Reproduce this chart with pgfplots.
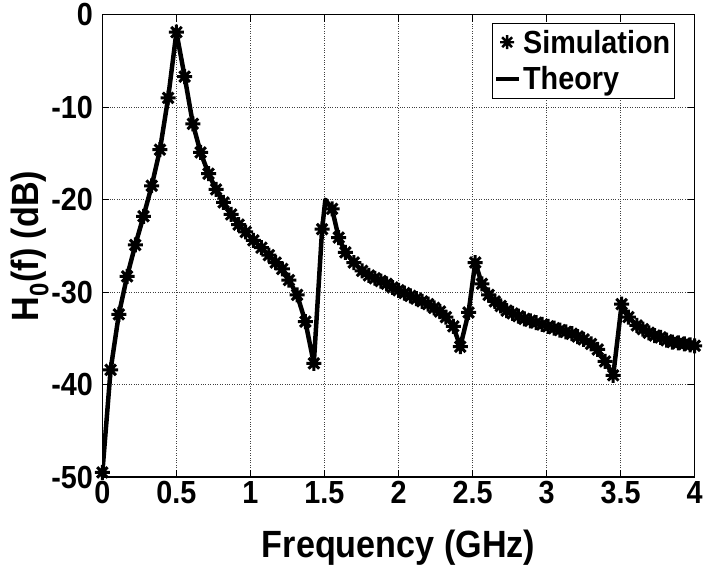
\documentclass[border=0pt]{standalone}
\usepackage{pgfplots}
\pgfplotsset{compat=1.18}
\usepackage{fontspec}
\setmainfont{Liberation Sans}[FakeStretch=0.9]

\pgfdeclareplotmark{mstar}{%
  \pgfpathmoveto{\pgfqpoint{-\pgfplotmarksize}{0pt}}%
  \pgfpathlineto{\pgfqpoint{\pgfplotmarksize}{0pt}}%
  \pgfpathmoveto{\pgfqpoint{0pt}{-\pgfplotmarksize}}%
  \pgfpathlineto{\pgfqpoint{0pt}{\pgfplotmarksize}}%
  \pgfpathmoveto{\pgfqpoint{-.707\pgfplotmarksize}{-.707\pgfplotmarksize}}%
  \pgfpathlineto{\pgfqpoint{.707\pgfplotmarksize}{.707\pgfplotmarksize}}%
  \pgfpathmoveto{\pgfqpoint{-.707\pgfplotmarksize}{.707\pgfplotmarksize}}%
  \pgfpathlineto{\pgfqpoint{.707\pgfplotmarksize}{-.707\pgfplotmarksize}}%
  \pgfusepathqstroke}

\pgfplotstableread{
x y
0 -49.5
0.0556 -38.4
0.1111 -32.4
0.1667 -28.3
0.2222 -24.9
0.2778 -21.8
0.3333 -18.5
0.3889 -14.6
0.4444 -9.0
0.5 -1.9
0.5556 -6.7
0.6111 -11.8
0.6633 -14.9
0.7170 -17.2
0.7680 -18.9
0.8180 -20.3
0.8700 -21.6
0.9200 -22.7
0.9680 -23.5
1.0200 -24.4
1.0740 -25.2
1.1240 -26.0
1.1700 -26.8
1.2150 -27.5
1.2600 -28.7
1.3150 -30.3
1.3710 -33.2
1.4280 -37.7
1.4840 -23.2
1.5510 -21.0
1.5960 -24.1
1.6410 -25.7
1.6980 -26.8
1.7540 -27.7
1.80 -28.2
1.84 -28.5
1.88 -28.8
1.92 -29.1
1.96 -29.5
2.00 -29.8
2.04 -30.1
2.08 -30.4
2.12 -30.7
2.16 -31.0
2.20 -31.3
2.24 -31.7
2.28 -32.1
2.32 -32.7
2.37 -33.7
2.417 -35.9
2.473 -32.2
2.518 -26.8
2.563 -29.1
2.608 -30.3
2.65 -31.0
2.69 -31.5
2.73 -32.0
2.77 -32.3
2.81 -32.6
2.85 -32.9
2.89 -33.1
2.93 -33.3
2.97 -33.5
3.01 -33.7
3.05 -33.9
3.09 -34.1
3.13 -34.3
3.17 -34.5
3.21 -34.8
3.25 -35.1
3.30 -35.6
3.345 -36.2
3.395 -37.5
3.45 -39.0
3.507 -31.3
3.553 -32.7
3.609 -33.6
3.65 -34.0
3.69 -34.4
3.73 -34.7
3.77 -34.9
3.81 -35.2
3.85 -35.4
3.89 -35.5
3.93 -35.6
3.97 -35.7
4.00 -35.8
}\simdata

\pgfplotstableread{
x y
0 -49.5
0.0556 -38.4
0.1111 -32.4
0.1667 -28.3
0.2222 -24.9
0.2778 -21.8
0.3333 -18.5
0.3889 -14.6
0.4444 -9.0
0.5 -1.9
0.5556 -6.7
0.6111 -11.8
0.6633 -14.9
0.7170 -17.2
0.7680 -18.9
0.8180 -20.3
0.8700 -21.6
0.9200 -22.7
0.9680 -23.5
1.0200 -24.4
1.0740 -25.2
1.1240 -26.0
1.1700 -26.8
1.2150 -27.5
1.2600 -28.7
1.3150 -30.3
1.3710 -33.2
1.4280 -37.7
1.4840 -23.2
1.5060 -20.0
1.5510 -21.0
1.5960 -24.1
1.6410 -25.7
1.6980 -26.8
1.7540 -27.7
1.80 -28.2
1.84 -28.5
1.88 -28.8
1.92 -29.1
1.96 -29.5
2.00 -29.8
2.04 -30.1
2.08 -30.4
2.12 -30.7
2.16 -31.0
2.20 -31.3
2.24 -31.7
2.28 -32.1
2.32 -32.7
2.37 -33.7
2.417 -35.9
2.473 -32.2
2.518 -26.8
2.563 -29.1
2.608 -30.3
2.65 -31.0
2.69 -31.5
2.73 -32.0
2.77 -32.3
2.81 -32.6
2.85 -32.9
2.89 -33.1
2.93 -33.3
2.97 -33.5
3.01 -33.7
3.05 -33.9
3.09 -34.1
3.13 -34.3
3.17 -34.5
3.21 -34.8
3.25 -35.1
3.30 -35.6
3.345 -36.2
3.395 -37.5
3.45 -39.0
3.507 -31.3
3.553 -32.7
3.609 -33.6
3.65 -34.0
3.69 -34.4
3.73 -34.7
3.77 -34.9
3.81 -35.2
3.85 -35.4
3.89 -35.5
3.93 -35.6
3.97 -35.7
4.00 -35.8
}\theorydata

\begin{document}
\begin{tikzpicture}
\begin{axis}[
  scale only axis,
  width=593pt, height=463pt,
  xmin=0, xmax=4, ymin=-50, ymax=0,
  xtick={0,0.5,1,1.5,2,2.5,3,3.5,4},
  xticklabels={0,0.5,1,1.5,2,2.5,3,3.5,4},
  ytick={-50,-40,-30,-20,-10,0},
  yticklabels={-50,-40,-30,-20,-10,0},
  grid=major,
  grid style={dotted, black!75, line width=1pt},
  tick align=inside,
  major tick length=7pt,
  tick style={black, line width=1.2pt},
  axis line style={line width=1.6pt},
  ticklabel style={font=\bfseries\fontsize{32}{34}\selectfont},
  xticklabel style={yshift=-1pt},
  yticklabel style={xshift=-6pt},
  label style={font=\bfseries\fontsize{38}{40}\selectfont},
  xlabel={Frequency (GHz)},
  xlabel style={yshift=-19pt},
  ylabel={H\textsubscript{0}(f) (dB)},
  ylabel style={inner ysep=11pt, yshift=-12pt},
  legend style={at={(0.966,0.983)}, anchor=north east, draw=black,
    line width=0.8pt, font=\bfseries\fontsize{32}{36}\selectfont,
    inner xsep=2pt, inner ysep=5pt, row sep=8pt},
  legend cell align=left,
  reverse legend,
]
\addplot[black, line width=4.5pt, line join=round,
  legend image code/.code={\draw[black, line width=4pt] (0pt,0pt) -- (23pt,0pt);}]
  table[x=x,y=y] {\theorydata};
\addlegendentry{Theory}
\addplot[only marks, mark=mstar, mark size=7.5pt, black,
  mark options={line width=3pt},
  legend image code/.code={\draw[black, mark options={line width=2.4pt}] plot[mark=mstar, mark size=7pt] coordinates {(11pt,0pt)};}]
  table[x=x,y=y] {\simdata};
\addlegendentry{Simulation}
\end{axis}
\end{tikzpicture}
\end{document}
